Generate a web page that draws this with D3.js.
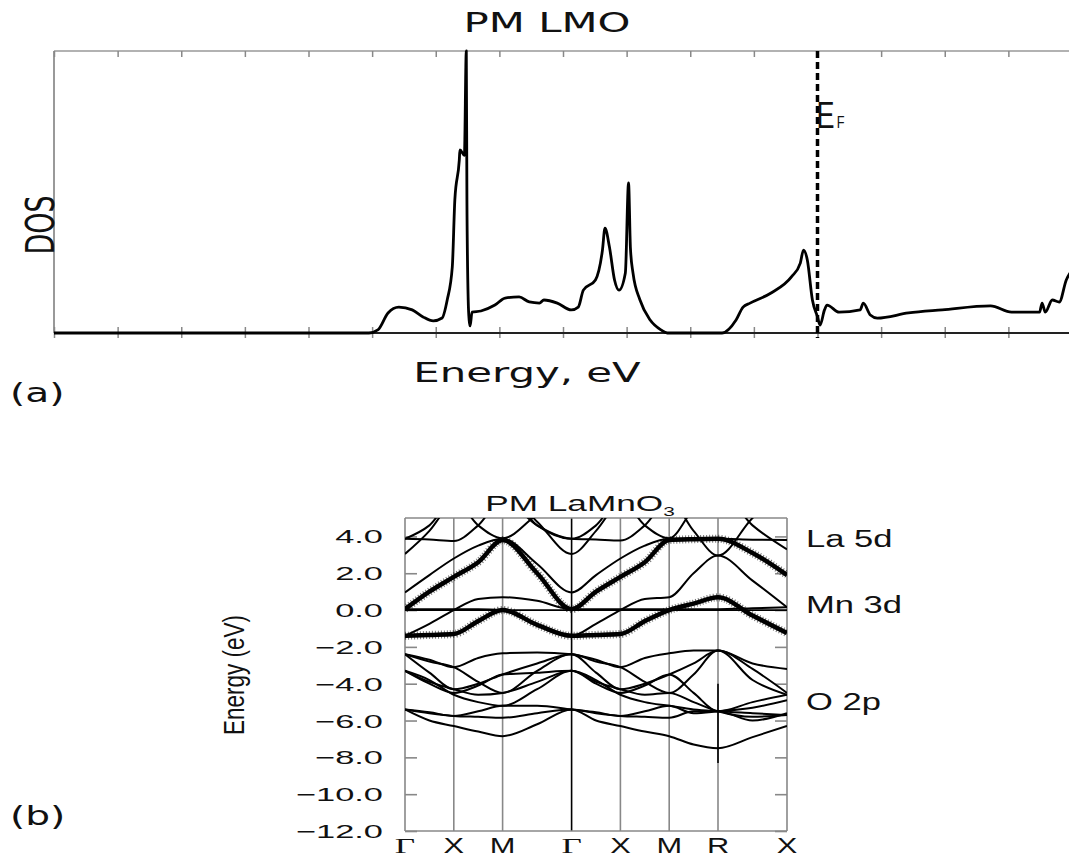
<!DOCTYPE html>
<html><head><meta charset="utf-8">
<script src="https://cdn.jsdelivr.net/npm/d3@7"></script>
<style>body{margin:0;background:#fff}svg{display:block}</style>
</head><body>
<svg id="c" width="1069" height="859"></svg>
<script>
// ---------- Panel (a): DOS ----------
const dosEnergy = [-12,-7.05,-6.91,-6.75,-6.58,-6.37,-6.2,-6.04,-5.9,-5.82,-5.74,-5.7,-5.63,-5.62,-5.55,-5.52,-5.51,-5.49,-5.475,-5.46,-5.43,-5.29,-5.07,-4.91,-4.69,-4.53,-4.37,-4.3,-4.09,-3.87,-3.76,-3.68,-3.49,-3.38,-3.34,-3.27,-3.19,-3.12,-3.02,-2.97,-2.94,-2.9,-2.79,-2.63,-2.46,-2.36,-1.5,-1.28,-1.17,-1.06,-0.73,-0.41,-0.27,-0.22,-0.16,-0.08,0.0,0.04,0.11,0.15,0.34,0.67,0.72,0.83,0.94,1.43,1.96,2.72,3.05,3.49,3.53,3.58,3.69,3.8,3.91,4.0];
const dosValue  = [0,0,0.11,0.71,0.92,0.82,0.57,0.43,0.53,1.17,2.34,4.72,6.13,6.49,6.3,10,4.72,1.17,0.46,0.25,0.74,0.78,0.99,1.24,1.28,1.1,1.06,1.17,1.06,0.82,0.92,1.52,1.88,2.94,3.72,3.05,1.88,1.52,2.13,5.32,3.0,2.13,1.17,0.46,0.11,0,0,0.46,0.92,1.06,1.42,1.99,2.48,2.94,2.59,1.17,0.57,0.28,0.82,0.99,0.74,0.82,1.06,0.64,0.53,0.71,0.82,0.96,0.74,0.74,1.06,0.74,1.17,1.1,1.88,2.23];
const dosTicks = d3.range(-12, 5, 1);

// ---------- Panel (b): bands ----------
const kLabels = ["Γ","X","M","Γ","X","M","R","X"];
const kDist   = [0, 0.5, 1.0, 1.707, 2.207, 2.707, 3.207, 3.914];
// 15 sample points: each symmetry point + the midpoint of each segment
const kSample = [0,0.25,0.5,0.75,1.0,1.354,1.707,1.957,2.207,2.457,2.707,2.957,3.207,3.561,3.914];
const eTicks = [4,2,0,-2,-4,-6,-8,-10,-12];
// fat (Mn-d weighted) bands
const bandF1 = [-1.4,-1.35,-1.3,-0.6,0.0,-0.8,-1.4,-1.35,-1.3,-0.6,0.0,0.35,0.69,-0.3,-1.25];
const bandF2 = [0.05,1.0,1.8,2.6,3.8,2.0,0.05,1.0,1.8,2.6,3.8,3.85,3.87,3.1,1.9];
// thin bands, Mn / La region
const bandTa = [-1.4,-0.75,0.0,0.6,0.7,0.5,0.05,0.05,0.05,0.05,0.05,0.05,0.05,0.1,0.15];
const bandTb = [0.05,0.05,0.05,0.05,0.0,-0.8,-1.4,-0.75,0.0,0.6,0.7,2.0,2.96,1.6,0.15];
const bandL2 = [0.96,1.9,2.8,3.5,3.87,2.5,0.96,1.9,2.8,3.5,3.87,3.87,3.87,3.82,3.8];
const bandLf = [3.87,3.83,3.75,4.6,6,4.6,3.87,3.83,3.78,4.6,6,4.3,2.96,5.0,6.5];
const bandLv = [3.87,4.6,6,4.6,3.9,5.2,6.5,6.5,6.5,6.5,6.5,6.5,6.5,6.5,6.5];
const bandLv2 = [6.5,6.5,6.5,6.5,6.5,4.6,3.87,4.6,6,4.6,3.9,5.5,6.5,4.6,3.3];
const bandLu = [3.05,4.3,6,6.5,6.5,4.8,3.05,4.3,6,6.5,6.5,6.5,6.5,6.5,6.5];
// O 2p bands
const bandO1 = [-2.4,-2.7,-3.1,-2.6,-2.35,-2.3,-2.4,-2.7,-3.1,-2.6,-2.35,-2.2,-2.2,-2.9,-3.2];
const bandO2 = [-2.4,-2.8,-3.1,-3.9,-4.5,-3.3,-2.4,-2.8,-3.1,-3.9,-4.5,-3.5,-2.2,-3.2,-4.5];
const bandO3 = [-2.4,-3.4,-4.3,-4.0,-3.5,-2.9,-2.4,-3.4,-4.3,-4.0,-3.5,-2.9,-2.2,-3.8,-4.6];
const bandO4 = [-3.3,-4.0,-4.5,-4.1,-3.5,-3.4,-3.3,-4.0,-4.5,-4.1,-3.5,-4.5,-5.5,-5.0,-4.6];
const bandO5 = [-3.3,-3.9,-4.3,-4.6,-4.5,-3.9,-3.3,-3.9,-4.3,-4.6,-4.5,-5.0,-5.5,-5.8,-5.7];
const bandO6 = [-3.3,-3.8,-4.6,-5.0,-5.2,-4.3,-3.3,-3.8,-4.6,-5.0,-5.2,-5.4,-5.5,-5.6,-5.7];
const bandO7 = [-5.4,-5.55,-5.75,-5.5,-5.2,-5.2,-5.4,-5.55,-5.75,-5.5,-5.2,-5.6,-5.5,-5.3,-4.9];
const bandO8 = [-5.4,-5.6,-5.75,-5.8,-5.85,-5.6,-5.4,-5.6,-5.75,-5.8,-5.85,-5.5,-5.5,-6.0,-5.6];
const bandO9 = [-5.4,-6.0,-6.3,-6.6,-6.85,-6.2,-5.4,-6.0,-6.3,-6.6,-6.85,-7.3,-7.5,-6.9,-6.3];
const fatBands = [bandF1, bandF2];
const thinBands = [bandTa,bandTb,bandL2,bandLf,bandLv,bandLv2,bandLu,bandO1,bandO2,bandO3,bandO4,bandO5,bandO6,bandO7,bandO8,bandO9];
const rSpike = [-4.0, -8.3];
const sideLabels = ["La 5d","Mn 3d","O 2p"];

const svg = d3.select("#c");
function stext(g, x, y, str, size, sx, family, anchor, rot){
  return g.append("text").attr("transform",`translate(${x},${y}) scale(${sx},1)`+(rot?` rotate(${rot})`:""))
    .attr("font-family",family).attr("font-size",size).attr("text-anchor",anchor||"start").attr("fill","#111").text(str);
}

// ===== Panel (a) =====
const xa = d3.scaleLinear().domain([-12, 4]).range([54, 1072]);
const ya = d3.scaleLinear().domain([0, 10]).range([333, 51]);
const A = svg.append("g");
A.append("line").attr("x1",54).attr("x2",1069).attr("y1",ya(10)).attr("y2",ya(10)).attr("stroke","#999").attr("stroke-width",1.5);
A.append("line").attr("x1",54).attr("x2",54).attr("y1",ya(10)).attr("y2",ya(0)).attr("stroke","#999").attr("stroke-width",2);
A.append("g").attr("transform",`translate(0,${ya(10)})`)
  .call(d3.axisTop(xa).tickValues(dosTicks).tickSize(-6).tickFormat(""))
  .call(g=>{g.select(".domain").remove();g.selectAll("line").attr("stroke","#888").attr("stroke-width",1.5);});
A.append("g").attr("transform",`translate(0,${ya(0)})`)
  .call(d3.axisBottom(xa).tickValues(dosTicks).tickSize(5).tickFormat(""))
  .call(g=>{g.select(".domain").remove();g.selectAll("line").attr("stroke","#888").attr("stroke-width",1.5).attr("y1",-6);});
A.append("line").attr("x1",54).attr("x2",1069).attr("y1",ya(0)).attr("y2",ya(0)).attr("stroke","#222").attr("stroke-width",2);
A.append("path").datum(dosEnergy.map((e,i)=>[e,dosValue[i]]))
  .attr("fill","none").attr("stroke","#000").attr("stroke-width",2.8).attr("stroke-linejoin","round")
  .attr("d", d3.line().x(d=>xa(d[0])).y(d=>ya(d[1])).curve(d3.curveMonotoneX));
A.append("line").attr("x1",xa(0)).attr("x2",xa(0)).attr("y1",ya(10)).attr("y2",ya(0)+5)
  .attr("stroke","#000").attr("stroke-width",3.5).attr("stroke-dasharray","7,4");
stext(A, 547, 32, "PM LMO", 27, 1.55, "DejaVu Sans", "middle");
stext(A, 527, 382, "Energy, eV", 27, 1.55, "DejaVu Sans", "middle");
stext(A, 10, 402, "(a)", 27, 1.45, "DejaVu Sans", "start");
stext(A, 54, 225, "DOS", 27, 1.45, "DejaVu Sans", "middle", -90);
const ef = A.append("text").attr("transform",`translate(${xa(0)-1},128) scale(0.75,1)`)
  .attr("font-family","Liberation Sans").attr("font-size",36).attr("fill","#111");
ef.append("tspan").text("E");
ef.append("tspan").attr("font-size",17).attr("dx",3).text("F");

// ===== Panel (b) =====
const xb = d3.scaleLinear().domain([0, 3.914]).range([405, 787]);
const yb = d3.scaleLinear().domain([-12, 5]).range([831, 518]);
const B = svg.append("g");
B.selectAll("line.k").data(kDist).join("line").attr("class","k")
  .attr("x1",d=>xb(d)).attr("x2",d=>xb(d)).attr("y1",yb(5)).attr("y2",yb(-12))
  .attr("stroke",(d,i)=>i===3?"#000":"#888").attr("stroke-width",1.6);
B.append("line").attr("x1",xb(0)).attr("x2",xb(3.914)).attr("y1",yb(5)).attr("y2",yb(5)).attr("stroke","#888").attr("stroke-width",1.6);
B.append("line").attr("x1",xb(0)).attr("x2",xb(3.914)).attr("y1",yb(-12)).attr("y2",yb(-12)).attr("stroke","#888").attr("stroke-width",1.6);
B.append("g").attr("transform",`translate(${xb(0)},0)`)
  .call(d3.axisRight(yb).tickValues(eTicks).tickSize(12).tickFormat(""))
  .call(g=>{g.select(".domain").remove();g.selectAll("line").attr("stroke","#888").attr("stroke-width",1.6);});
B.append("g").attr("transform",`translate(${xb(3.914)},0)`)
  .call(d3.axisLeft(yb).tickValues(eTicks).tickSize(12).tickFormat(""))
  .call(g=>{g.select(".domain").remove();g.selectAll("line").attr("stroke","#888").attr("stroke-width",1.6);});
const fmt = d => (d<0?"\u2212":"") + Math.abs(d).toFixed(1);
eTicks.forEach(e=>{ stext(B, 383, yb(e)+7, fmt(e), 18.6, 1.85, "Liberation Sans", "end"); });
kLabels.forEach((l,i)=>{ stext(B, xb(kDist[i]), 853, l, 22, l==="Γ"?1.6:1.4, l==="Γ"?"Liberation Serif":"Liberation Sans", "middle"); });
svg.append("clipPath").attr("id","bc").append("rect").attr("x",xb(0)).attr("y",yb(5)).attr("width",xb(3.914)-xb(0)).attr("height",yb(-12)-yb(5));
const BC = B.append("g").attr("clip-path","url(#bc)");
const bline = d3.line().x((d,i)=>xb(kSample[i])).y(d=>yb(d)).curve(d3.curveMonotoneX);
BC.append("line").attr("x1",xb(0)).attr("x2",xb(3.914)).attr("y1",yb(0)).attr("y2",yb(0)).attr("stroke","#000").attr("stroke-width",1.8);
BC.selectAll("path.thin").data(thinBands).join("path").attr("class","thin")
  .attr("fill","none").attr("stroke","#000").attr("stroke-width",2).attr("d",bline);
BC.selectAll("path.fatx").data(fatBands).join("path").attr("class","fatx")
  .attr("fill","none").attr("stroke","#000").attr("stroke-opacity",0.55).attr("stroke-width",8).attr("stroke-dasharray","1,2").attr("d",bline);
BC.selectAll("path.fat").data(fatBands).join("path").attr("class","fat")
  .attr("fill","none").attr("stroke","#000").attr("stroke-width",4.5).attr("d",bline);
BC.append("line").attr("x1",xb(3.207)).attr("x2",xb(3.207)).attr("y1",yb(rSpike[0])).attr("y2",yb(rSpike[1])).attr("stroke","#000").attr("stroke-width",1.6);
const tt = B.append("text").attr("transform",`translate(580,511) scale(1.6,1)`).attr("font-family","Liberation Sans").attr("font-size",22).attr("text-anchor","middle").attr("fill","#111");
tt.append("tspan").text("PM LaMnO");
tt.append("tspan").attr("font-size",13).attr("dy",5).text("3");
stext(B, 244, 675, "Energy (eV)", 22.5, 1.3, "Liberation Sans", "middle", -90);
const labelY = [547, 613, 710];
sideLabels.forEach((s,i)=>stext(B, 806, labelY[i], s, 24.7, 1.4, "Liberation Sans", "start"));
stext(B, 10, 825, "(b)", 27, 1.45, "DejaVu Sans", "start");
</script>
</body></html>
